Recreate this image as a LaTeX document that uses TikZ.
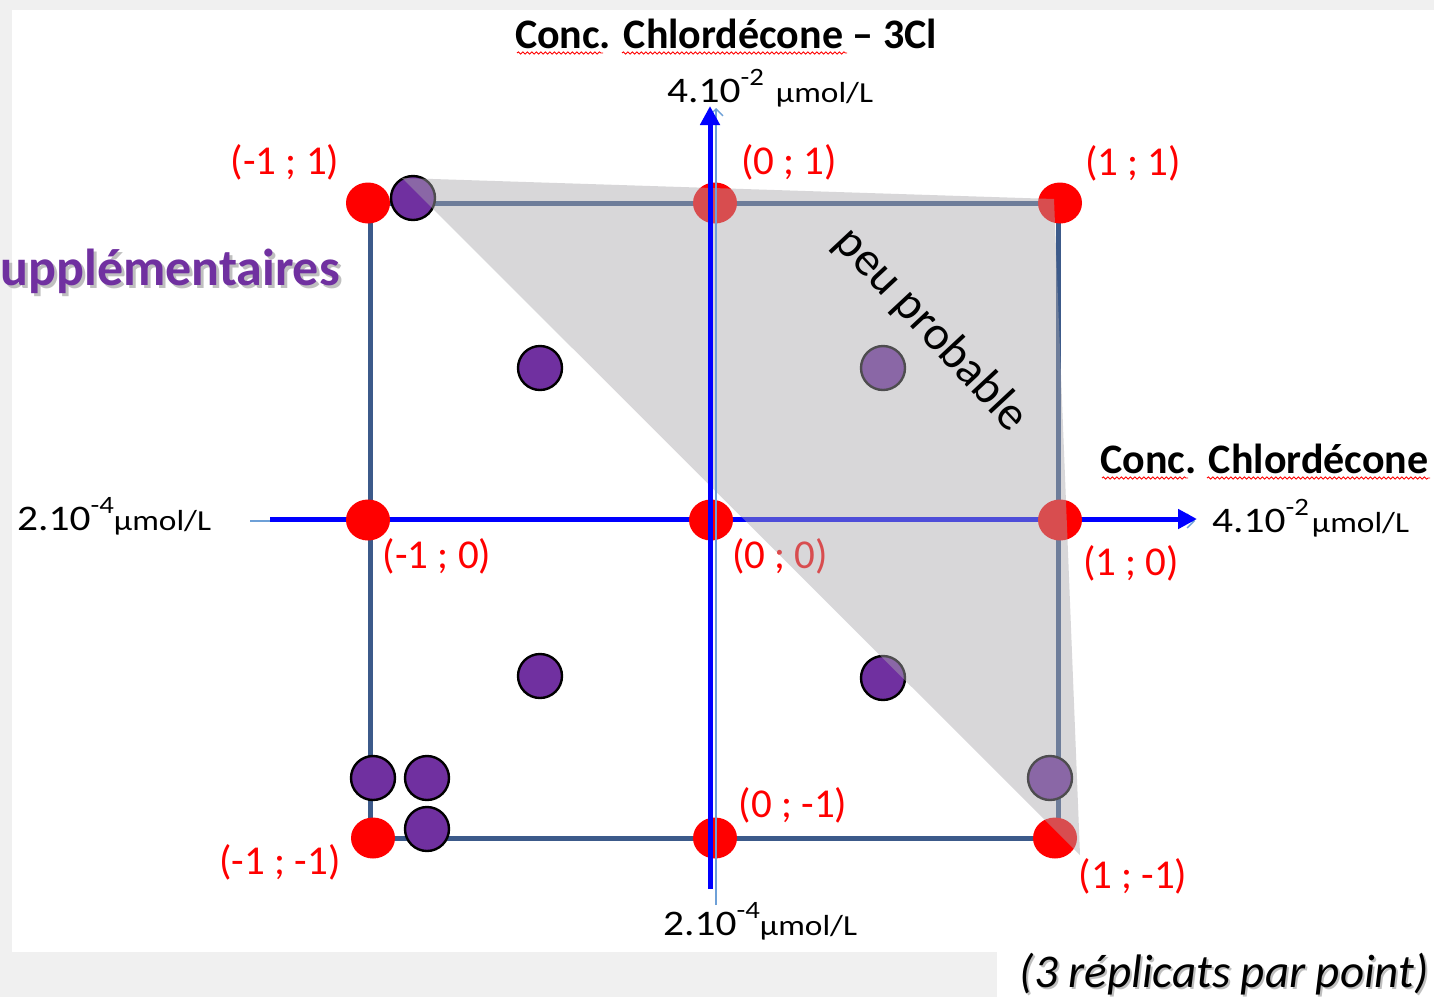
\documentclass[tikz,border=0pt]{standalone}
\usepackage{fontspec}
\setmainfont{Carlito}
\newfontfamily\valfont[FakeStretch=1.15]{Carlito}
\usepackage{tikz}
\usetikzlibrary{arrows.meta, positioning, shapes.geometric, decorations.pathmorphing}

\definecolor{pagegray}{RGB}{240,240,240}
\definecolor{framecol}{RGB}{60,90,138}
\definecolor{axisblue}{RGB}{0,0,255}
\definecolor{ghostblue}{RGB}{110,160,215}
\definecolor{ptpurple}{RGB}{112,48,160}
\definecolor{shadegray}{RGB}{170,168,174}

\newcommand{\fsz}[1]{\fontsize{#1}{#1}\selectfont}
\newcommand{\expo}[1]{\raisebox{0.45em}{\fsz{25}#1}}
\newcommand{\unit}{{\fsz{29}µmol/L}}

\begin{document}
\begin{tikzpicture}[x=1pt, y=-1pt,
    reddot/.style={ellipse, fill=red, minimum width=44pt, minimum height=41pt, inner sep=0pt},
    pdot/.style={circle, draw=black, line width=2.4pt, fill=ptpurple, minimum size=44pt, inner sep=0pt},
    redlab/.style={text=red, font=\fsz{41}, inner sep=0pt},
    vallab/.style={font=\valfont\fsz{36}, inner sep=0pt, anchor=base west},
    ttl/.style={font=\fsz{42}\bfseries, inner sep=0pt},
    axisarrow/.style={draw=axisblue, line width=5pt, -{Triangle[length=19pt,width=19pt]}},
    ghostline/.style={draw=ghostblue, line width=1.3pt, -{Straight Barb[length=7pt,width=14pt]}},
    squiggle/.style={draw=red, line width=0.9pt, decorate, decoration={snake, amplitude=1.1pt, segment length=4.5pt}},
]

% page and panels
\fill[pagegray] (0,0) rectangle (1434,997);
\fill[white] (12,10) rectangle (1434,952);
\fill[white] (997,952) rectangle (1434,997);
\useasboundingbox (0,0) rectangle (1434,997);

% design square
\coordinate (sqTL) at (370,203);
\coordinate (sqTR) at (1058,203);
\coordinate (sqBR) at (1058,838);
\coordinate (sqBL) at (370,838);
\draw[framecol, line width=5pt] (sqTL) -- (sqTR) -- (sqBR) -- (sqBL) -- cycle;

% horizontal axis
\coordinate (xGl) at (250,521);
\coordinate (xGr) at (1195,521);
\coordinate (xL) at (270,519);
\coordinate (xR) at (1197,519);
\draw[ghostline] (xGl) -- (xGr);
\draw[axisarrow] (xL) -- (xR);

% corner / centre points
\node[reddot] (dmp) at (368,203) {};
\node[reddot] (d0p) at (715,203) {};
\node[reddot] (dpp) at (1060,203) {};
\node[reddot] (dm0) at (368,520) {};
\node[reddot] (d00) at (711,520) {};
\node[reddot] (dp0) at (1060,520) {};
\node[reddot] (dmm) at (373,838) {};
\node[reddot] (d0m) at (715,838) {};
\node[reddot] (dpm) at (1055,838) {};

% extra points
\node[pdot] (s1) at (413,198) {};
\node[pdot] (s2) at (540,368) {};
\node[pdot] (s3) at (883,368) {};
\node[pdot] (s4) at (540,676) {};
\node[pdot] (s5) at (883,678) {};
\node[pdot] (s6) at (373,778) {};
\node[pdot] (s7) at (427,778) {};
\node[pdot] (s8) at (427,829) {};
\node[pdot] (s9) at (1050,778) {};

% coded levels
\node[redlab] (lmp) at (285,162) {(-1 ; 1)};
\node[redlab] (l0p) at (789,162) {(0 ; 1)};
\node[redlab] (lpp) at (1133,163) {(1 ; 1)};
\node[redlab] (lm0) at (437,556) {(-1 ; 0)};
\node[redlab] (l00) at (780,556) {(0 ; 0)};
\node[redlab] (lp0) at (1131,563) {(1 ; 0)};
\node[redlab] (lmm) at (280,862) {(-1 ; -1)};
\node[redlab] (l0m) at (793,805) {(0 ; -1)};
\node[redlab] (lpm) at (1133,876) {(1 ; -1)};

% axis titles and values
\node[ttl, anchor=base] (ttop) at (726,48) {Conc. Chlordécone – 3Cl};
\node[ttl, anchor=base west] (tright) at (1100,473) {Conc. Chlordécone};
\draw[squiggle] (517,53) -- (603,53);
\draw[squiggle] (622,53) -- (847,53);
\draw[squiggle] (1102,478) -- (1188,478);
\draw[squiggle] (1207,478) -- (1430,478);

\node[vallab] (vtop) at (667,102) {4.10\expo{-2}\hspace{12pt}\unit};
\node[vallab] (vright) at (1212,532) {4.10\expo{-2}\hspace{3pt}\unit};
\node[vallab] (vleft) at (17,530) {2.10\expo{-4}\unit};
\node[vallab] (vbot) at (663,935) {2.10\expo{-4}\unit};

% side heading and note
\node[font=\fsz{52}\bfseries, text=black!25, anchor=base east, inner sep=0pt] at (343,288) {upplémentaires};
\node[font=\fsz{52}\bfseries, text=ptpurple, anchor=base east, inner sep=0pt] (sup) at (340,285) {upplémentaires};
\node[font=\fsz{47}\itshape, text=black!25, anchor=base east, inner sep=0pt] at (1431,989) {(3 réplicats par point)};
\node[font=\fsz{47}\itshape, anchor=base east, inner sep=0pt] (note) at (1429,987) {(3 réplicats par point)};

% unlikely region
\fill[shadegray, fill opacity=0.46] (402,178) -- (1054,199) -- (1080,855) -- cycle;

% vertical axis
\coordinate (yGb) at (716,905);
\coordinate (yGt) at (716,108);
\coordinate (yB) at (710,889);
\coordinate (yT) at (710,106);
\draw[ghostline] (yGb) -- (yGt);
\draw[axisarrow] (yB) -- (yT);

\node[font=\fsz{48}, rotate=-47, inner sep=0pt] (peu) at (931,330) {peu probable};

\end{tikzpicture}
\end{document}
